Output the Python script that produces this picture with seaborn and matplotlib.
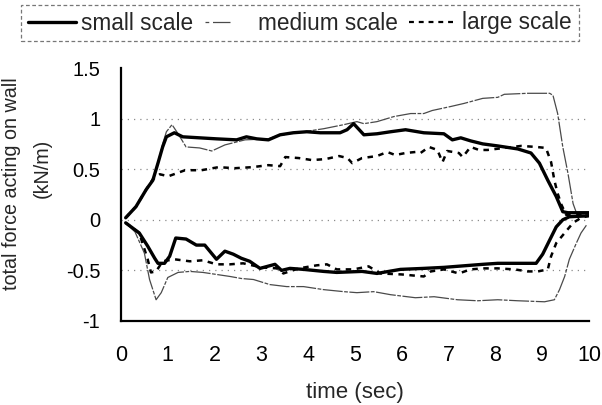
import matplotlib
matplotlib.use("Agg")
import matplotlib.pyplot as plt
from matplotlib.lines import Line2D
import numpy as np
import pandas as pd
import seaborn as sns

# Wave loading on the wall: upper (positive) and lower (negative) envelopes per model scale
small_up_t = [0.1, 0.32, 0.54, 0.68, 0.79, 0.89, 0.97, 1.14, 1.32, 1.68, 2.04, 2.47, 2.68, 2.9, 3.15,
              3.4, 3.68, 3.97, 4.26, 4.68, 4.83, 4.97, 5.19, 5.47, 5.76, 6.08, 6.47, 6.9, 7.08, 7.26,
              7.47, 7.73, 8.05, 8.48, 8.76, 8.94, 9.12, 9.30, 9.44, 9.55, 10.0]
small_up_f = [0.02, 0.13, 0.30, 0.39, 0.56, 0.72, 0.82, 0.86, 0.82, 0.81, 0.80, 0.79, 0.82, 0.80, 0.79,
              0.84, 0.86, 0.87, 0.86, 0.86, 0.89, 0.95, 0.84, 0.85, 0.87, 0.89, 0.86, 0.85, 0.79, 0.81,
              0.78, 0.75, 0.73, 0.70, 0.66, 0.56, 0.39, 0.23, 0.08, 0.07, 0.07]

small_lo_t = [0.1, 0.39, 0.57, 0.72, 0.79, 0.93, 1.04, 1.17, 1.39, 1.61, 1.79, 2.04, 2.22, 2.4, 2.57,
              2.75, 2.97, 3.29, 3.43, 3.61, 3.9, 4.33, 4.61, 5.15, 5.47, 5.97, 6.47, 6.9, 7.73, 8.05,
              8.87, 9.01, 9.16, 9.30, 9.44, 9.58, 10.0]
small_lo_f = [-0.03, -0.13, -0.26, -0.38, -0.43, -0.43, -0.36, -0.18, -0.19, -0.25, -0.25, -0.39, -0.31,
              -0.34, -0.38, -0.41, -0.48, -0.44, -0.50, -0.48, -0.49, -0.51, -0.52, -0.51, -0.53, -0.49,
              -0.48, -0.47, -0.44, -0.43, -0.43, -0.34, -0.20, -0.07, 0.0, 0.03, 0.04]

medium_up_t = [0.1, 0.32, 0.54, 0.68, 0.79, 0.89, 0.97, 1.09, 1.22, 1.39, 1.68, 1.94, 2.22, 2.65, 3.15,
               3.33, 3.9, 4.33, 4.76, 5.04, 5.19, 5.47, 5.83, 6.19, 6.47, 6.65, 7.05, 7.33, 7.73, 8.05,
               8.19, 8.69, 9.16, 9.23, 9.33, 9.44, 9.55, 9.66, 9.73, 10.0]
medium_up_f = [0.02, 0.13, 0.30, 0.40, 0.57, 0.75, 0.87, 0.94, 0.85, 0.72, 0.71, 0.68, 0.74, 0.79, 0.80,
               0.83, 0.87, 0.90, 0.94, 0.97, 0.95, 0.97, 1.02, 1.05, 1.05, 1.08, 1.12, 1.15, 1.20, 1.21,
               1.24, 1.25, 1.25, 1.23, 1.05, 0.72, 0.46, 0.16, 0.07, 0.05]

medium_lo_t = [0.1, 0.3, 0.5, 0.61, 0.75, 0.86, 1.0, 1.22, 1.47, 1.75, 2.04, 2.33, 2.57, 2.83, 3.18,
               3.54, 3.9, 4.33, 4.76, 5.04, 5.4, 5.76, 6.29, 6.69, 7.19, 7.62, 8.05, 8.48, 9.05, 9.26,
               9.37, 9.48, 9.58, 9.73, 9.83, 9.95]
medium_lo_f = [-0.03, -0.12, -0.33, -0.59, -0.79, -0.72, -0.57, -0.52, -0.51, -0.52, -0.54, -0.56, -0.58,
               -0.59, -0.64, -0.66, -0.66, -0.69, -0.71, -0.72, -0.71, -0.74, -0.77, -0.76, -0.79, -0.80,
               -0.79, -0.80, -0.81, -0.79, -0.69, -0.56, -0.39, -0.23, -0.13, -0.05]

large_up_t = [0.1, 0.32, 0.54, 0.68, 0.83, 1.01, 1.37, 1.72, 2.08, 2.44, 2.8, 3.15, 3.4, 3.51, 3.8,
              4.08, 4.37, 4.66, 4.84, 4.94, 5.15, 5.47, 5.69, 5.86, 6.08, 6.29, 6.4, 6.58, 6.76, 6.87,
              6.97, 7.22, 7.3, 7.47, 7.65, 7.83, 8.19, 8.55, 8.87, 9.08, 9.19, 9.26, 9.33, 9.41, 9.51, 10.0]
large_up_f = [0.02, 0.13, 0.30, 0.40, 0.45, 0.43, 0.49, 0.49, 0.52, 0.51, 0.52, 0.54, 0.53, 0.62, 0.61,
              0.59, 0.60, 0.63, 0.61, 0.56, 0.61, 0.63, 0.67, 0.64, 0.66, 0.67, 0.66, 0.72, 0.69, 0.57,
              0.68, 0.66, 0.62, 0.72, 0.69, 0.69, 0.71, 0.73, 0.72, 0.71, 0.57, 0.39, 0.26, 0.15, 0.05, 0.05]

large_lo_t = [0.1, 0.39, 0.57, 0.64, 0.75, 0.89, 1.14, 1.47, 1.75, 2.04, 2.33, 2.61, 3.0, 3.33, 3.47,
              3.8, 4.18, 4.4, 4.61, 4.97, 5.29, 5.54, 6.0, 6.47, 6.62, 6.9, 7.22, 7.47, 7.73, 8.05,
              8.41, 8.69, 8.91, 9.12, 9.19, 9.30, 9.48, 9.66, 9.83, 10.0]
large_lo_f = [-0.03, -0.13, -0.39, -0.52, -0.51, -0.41, -0.39, -0.41, -0.40, -0.44, -0.44, -0.43, -0.47,
              -0.48, -0.53, -0.48, -0.45, -0.44, -0.49, -0.49, -0.46, -0.53, -0.54, -0.56, -0.51, -0.49,
              -0.53, -0.49, -0.48, -0.48, -0.49, -0.51, -0.51, -0.49, -0.36, -0.23, -0.13, -0.03, 0.02, 0.04]

scale_names = ["small scale", "medium scale", "large scale"]
x_ticks = list(range(0, 11))
y_ticks = [-1, -0.5, 0, 0.5, 1, 1.5]
y_tick_labels = ["-1", "-0.5", "0", "0.5", "1", "1.5"]

sns.set_style("white")
plt.rcParams["font.family"] = ["Liberation Sans", "DejaVu Sans"]

styles = {
    "small scale": dict(color="black", linewidth=2.4, linestyle="-"),
    "medium scale": dict(color="#4a4a4a", linewidth=0.9, linestyle=(0, (16, 1.2, 3, 1.2))),
    "large scale": dict(color="black", linewidth=1.8, linestyle=(0, (2.2, 2.2))),
}
legend_styles = {
    "small scale": styles["small scale"],
    "medium scale": dict(color="#4a4a4a", linewidth=0.9, linestyle=(0, (3, 3, 14, 40))),
    "large scale": dict(color="black", linewidth=1.6, linestyle=(0, (2.2, 2.2))),
}

curves = [
    ("large scale", large_up_t, large_up_f),
    ("large scale", large_lo_t, large_lo_f),
    ("medium scale", medium_up_t, medium_up_f),
    ("medium scale", medium_lo_t, medium_lo_f),
    ("small scale", small_up_t, small_up_f),
    ("small scale", small_lo_t, small_lo_f),
]

fig = plt.figure(figsize=(6.02, 4.05), dpi=100)
ax = fig.add_axes([121 / 602, 1 - 321 / 405, 468 / 602, 253 / 405])

for name, t, f in curves:
    df = pd.DataFrame({"time": t, "force": f})
    sns.lineplot(data=df, x="time", y="force", ax=ax, sort=False, estimator=None,
                 legend=False, **styles[name])

# dotted horizontal guide lines
for yv in [1, 0.5, 0, -0.5]:
    ax.axhline(yv, color="#8c8c8c", linewidth=0.9, linestyle=(0, (1, 4)), zorder=0)

ax.set_xlim(0, 10)
ax.set_ylim(-1, 1.5)
ax.set_xticks(x_ticks)
ax.set_yticks(y_ticks)
ax.set_yticklabels(y_tick_labels)

for side in ["top", "right"]:
    ax.spines[side].set_visible(False)
for side in ["left", "bottom"]:
    ax.spines[side].set_color("black")
    ax.spines[side].set_linewidth(1.6)

ax.tick_params(axis="both", direction="in", length=6, width=1.6, color="black",
               labelcolor="black")
ax.tick_params(axis="y", pad=15, labelsize=14.5)
ax.tick_params(axis="x", pad=17, labelsize=15.5)

ax.set_xlabel("time (sec)", fontsize=16, labelpad=12)
ax.set_ylabel("")
fig.text(12 / 602, 0.5 + (202 - 183) / 405, "total force acting on wall", rotation=90,
         fontsize=14.2, ha="center", va="center")
fig.text(42 / 602, 0.5 + (202 - 168) / 405, "(kN/m)", rotation=90,
         fontsize=14.2, ha="center", va="center")

handles = [Line2D([], [], **legend_styles[n]) for n in scale_names]
leg = fig.legend(handles, scale_names, loc="center", ncol=3, fontsize=16.3,
                 bbox_to_anchor=(300 / 602, 1 - 23 / 405),
                 frameon=True, fancybox=False, handlelength=2.1, handletextpad=0.25,
                 columnspacing=0.5, borderpad=0.3, borderaxespad=0.0)
frame = leg.get_frame()
frame.set_edgecolor("#555555")
frame.set_linestyle((0, (3, 2)))
frame.set_linewidth(0.9)

fig.savefig("out.png", dpi=100)
